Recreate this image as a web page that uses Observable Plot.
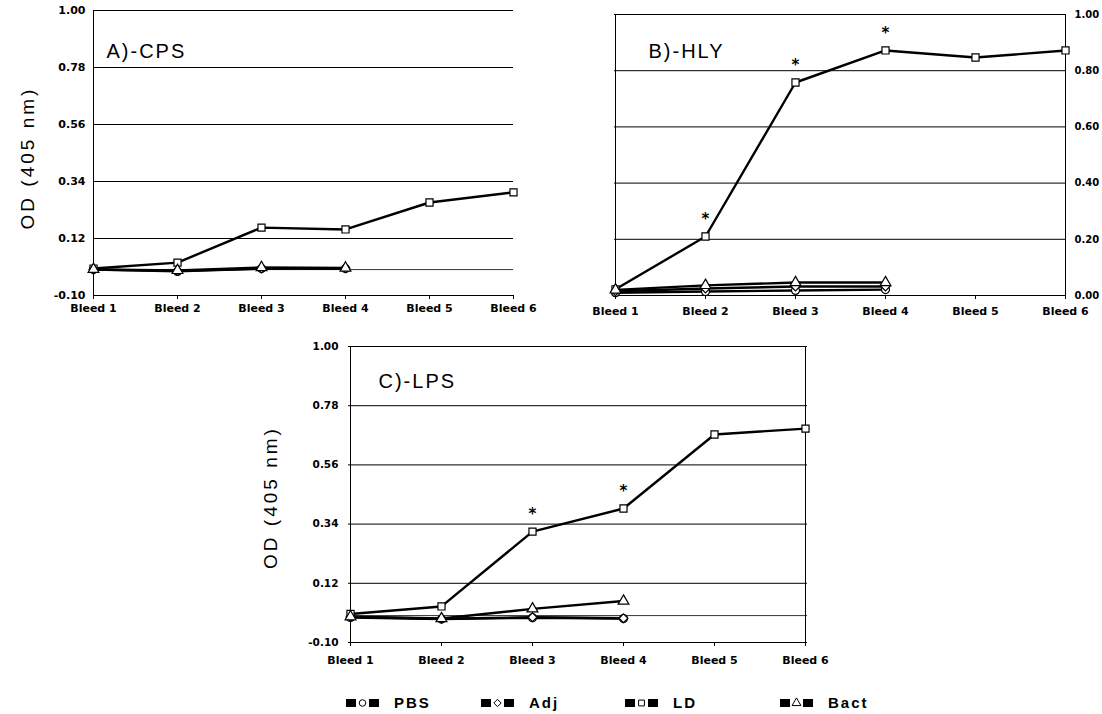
<!DOCTYPE html>
<html><head><meta charset="utf-8">
<script src="https://cdn.jsdelivr.net/npm/d3@7"></script>
<script src="https://cdn.jsdelivr.net/npm/@observablehq/plot@0.6"></script>
<style>
body{margin:0;background:#fff;}
#fig{position:relative;width:1102px;height:714px;background:#fff;overflow:hidden;}
#fig > svg{position:absolute;}
.legend{position:absolute;top:694px;left:346px;display:flex;font-family:"Liberation Sans",Arial,sans-serif;font-weight:bold;font-size:15px;letter-spacing:2px;color:#000;}
.legend .item{display:flex;align-items:center;}
.legend .item svg{margin-right:15px;}
</style></head><body><div id="fig"></div>
<script>
// ---------- data ----------
const bleeds = ["Bleed 1","Bleed 2","Bleed 3","Bleed 4","Bleed 5","Bleed 6"];
const groups = ["PBS","Adj","LD","Bact"];
const groupSymbols = ["circle","diamond2","square","triangle"];

// A) CPS
const cpsPBS  = [0.000, -0.007, 0.004, 0.004];
const cpsAdj  = [0.000, -0.005, 0.004, 0.005];
const cpsLD   = [0.004, 0.027, 0.162, 0.155, 0.259, 0.298];
const cpsBact = [0.001, -0.003, 0.008, 0.006];
const cpsStars = [];

// B) HLY
const hlyPBS  = [0.010, 0.014, 0.018, 0.021];
const hlyAdj  = [0.015, 0.025, 0.032, 0.032];
const hlyLD   = [0.022, 0.210, 0.758, 0.872, 0.847, 0.872];
const hlyBact = [0.020, 0.036, 0.046, 0.046];
const hlyStars = ["Bleed 2","Bleed 3","Bleed 4"];

// C) LPS
const lpsPBS  = [-0.007, -0.013, -0.008, -0.011];
const lpsAdj  = [-0.005, -0.012, -0.006, -0.010];
const lpsLD   = [0.006, 0.034, 0.312, 0.398, 0.673, 0.695];
const lpsBact = [-0.004, -0.011, 0.025, 0.054];
const lpsStars = ["Bleed 3","Bleed 4"];

const odTicks  = [-0.10, 0.12, 0.34, 0.56, 0.78, 1.00];
const hlyTicks = [0.00, 0.20, 0.40, 0.60, 0.80, 1.00];
const yLabel = "OD (405 nm)";
const legendLabels = ["PBS","Adj","LD","Bact"];

// ---------- helpers ----------
function tidy(series){
  return groups.flatMap((g,gi)=>series[gi].map((v,i)=>({bleed:bleeds[i], group:g, value:v})));
}

function panel(o){
  const data = tidy(o.series);
  const starData = data.filter(d=>d.group==="LD" && o.stars.includes(d.bleed));
  const svg = Plot.plot({
    width:o.width, height:o.height,
    marginLeft:o.ml, marginRight:o.mr, marginTop:o.mt, marginBottom:o.mb,
    x:{type:"point", domain:bleeds, padding:0, label:null},
    y:{domain:o.yDomain, label:null},
    symbol:{domain:groups, range:groupSymbols},
    style:{fontFamily:"DejaVu Sans", fontWeight:"bold", fontSize:"10px", background:"transparent", overflow:"visible", color:"#000"},
    marks:[
      Plot.ruleY(o.yTicks, {stroke:"#000", strokeWidth:1}),
      o.zero ? Plot.ruleY([0], {stroke:"#000", strokeWidth:0.8}) : null,
      Plot.ruleX([bleeds[0]], {stroke:"#000", strokeWidth:1}),
      o.rightBorder ? Plot.ruleX([bleeds[bleeds.length-1]], {stroke:"#000", strokeWidth:1}) : null,
      Plot.axisY({anchor:o.yAnchor, ticks:o.yTicks, tickFormat:v=>v.toFixed(2), tickSize:0, tickPadding:o.yPad, fontSize:o.yFont, label:null}),
      Plot.axisX({tickSize:4, tickPadding:o.xPad, label:null, fontSize:11}),
      Plot.line(data, {x:"bleed", y:"value", z:"group", stroke:"#000", strokeWidth:2.4}),
      Plot.dot(data, {x:"bleed", y:"value", symbol:"group", fill:"white", stroke:"#000", strokeWidth:1.2, r:4}),
      Plot.text(starData, {x:"bleed", y:"value", text:d=>"*", dy:-17, fontSize:15, fontWeight:"bold"}),
      Plot.text([o.title], {frameAnchor:"top-left", textAnchor:"start", dx:o.tdx, dy:o.tdy, fontSize:20, fontWeight:"normal", fontFamily:"Liberation Sans", ariaDescription:"paneltitle"}),
      o.showYLabel ? Plot.text([yLabel], {frameAnchor:"left", textAnchor:"middle", lineAnchor:"middle", rotate:-90, dx:o.ldx, dy:o.ldy, fontSize:19, fontWeight:"normal", fontFamily:"Liberation Sans", ariaDescription:"ylabel"}) : null
    ]
  });
  d3.select(svg).selectAll("g[aria-description=paneltitle] text").style("letter-spacing","2px");
  d3.select(svg).selectAll("g[aria-description=ylabel] text").style("letter-spacing","3px");
  svg.style.left = o.left + "px";
  svg.style.top = o.top + "px";
  return svg;
}

const fig = document.getElementById("fig");

fig.appendChild(panel({
  series:[cpsPBS,cpsAdj,cpsLD,cpsBact], stars:cpsStars, title:"A)-CPS",
  left:0, top:0, width:530, height:320, ml:93, mr:17, mt:10, mb:25,
  yDomain:[-0.10,1.00], yTicks:odTicks, yAnchor:"left", yPad:8, yFont:11, xPad:5,
  zero:true, rightBorder:false, tdx:13, tdy:33, showYLabel:true, ldx:-66, ldy:5
}));

fig.appendChild(panel({
  series:[hlyPBS,hlyAdj,hlyLD,hlyBact], stars:hlyStars, title:"B)-HLY",
  left:560, top:0, width:542, height:320, ml:54, mr:37, mt:14, mb:25,
  yDomain:[0,1], yTicks:hlyTicks, yAnchor:"right", yPad:9, yFont:10, xPad:8,
  zero:false, rightBorder:true, tdx:34, tdy:29, showYLabel:false, ldx:0, ldy:0
}));

fig.appendChild(panel({
  series:[lpsPBS,lpsAdj,lpsLD,lpsBact], stars:lpsStars, title:"C)-LPS",
  left:250, top:330, width:600, height:345, ml:98, mr:43, mt:16, mb:33,
  yDomain:[-0.10,1.00], yTicks:odTicks, yAnchor:"left", yPad:10, yFont:10.5, xPad:10,
  zero:true, rightBorder:true, tdx:30, tdy:27, showYLabel:true, ldx:-78, ldy:3
}));

// ---------- legend ----------
const legend = document.createElement("div");
legend.className = "legend";
const symMap = {circle:d3.symbolCircle, diamond2:d3.symbolDiamond2, square:d3.symbolSquare, triangle:d3.symbolTriangle};
const itemWidths = [135,144,155,90];
legendLabels.forEach((lab,i)=>{
  const item = document.createElement("div");
  item.className = "item";
  item.style.width = itemWidths[i] + "px";
  const s = d3.create("svg").attr("width",33).attr("height",12);
  s.append("rect").attr("x",0).attr("y",2).attr("width",10).attr("height",8).attr("fill","#000");
  s.append("rect").attr("x",23).attr("y",2).attr("width",10).attr("height",8).attr("fill","#000");
  s.append("path").attr("transform","translate(16.5,6)")
    .attr("d", d3.symbol(symMap[groupSymbols[i]], 34)())
    .attr("fill","white").attr("stroke","#000").attr("stroke-width",1);
  item.appendChild(s.node());
  const t = document.createElement("span");
  t.textContent = lab;
  item.appendChild(t);
  legend.appendChild(item);
});
fig.appendChild(legend);
</script>
</body></html>
